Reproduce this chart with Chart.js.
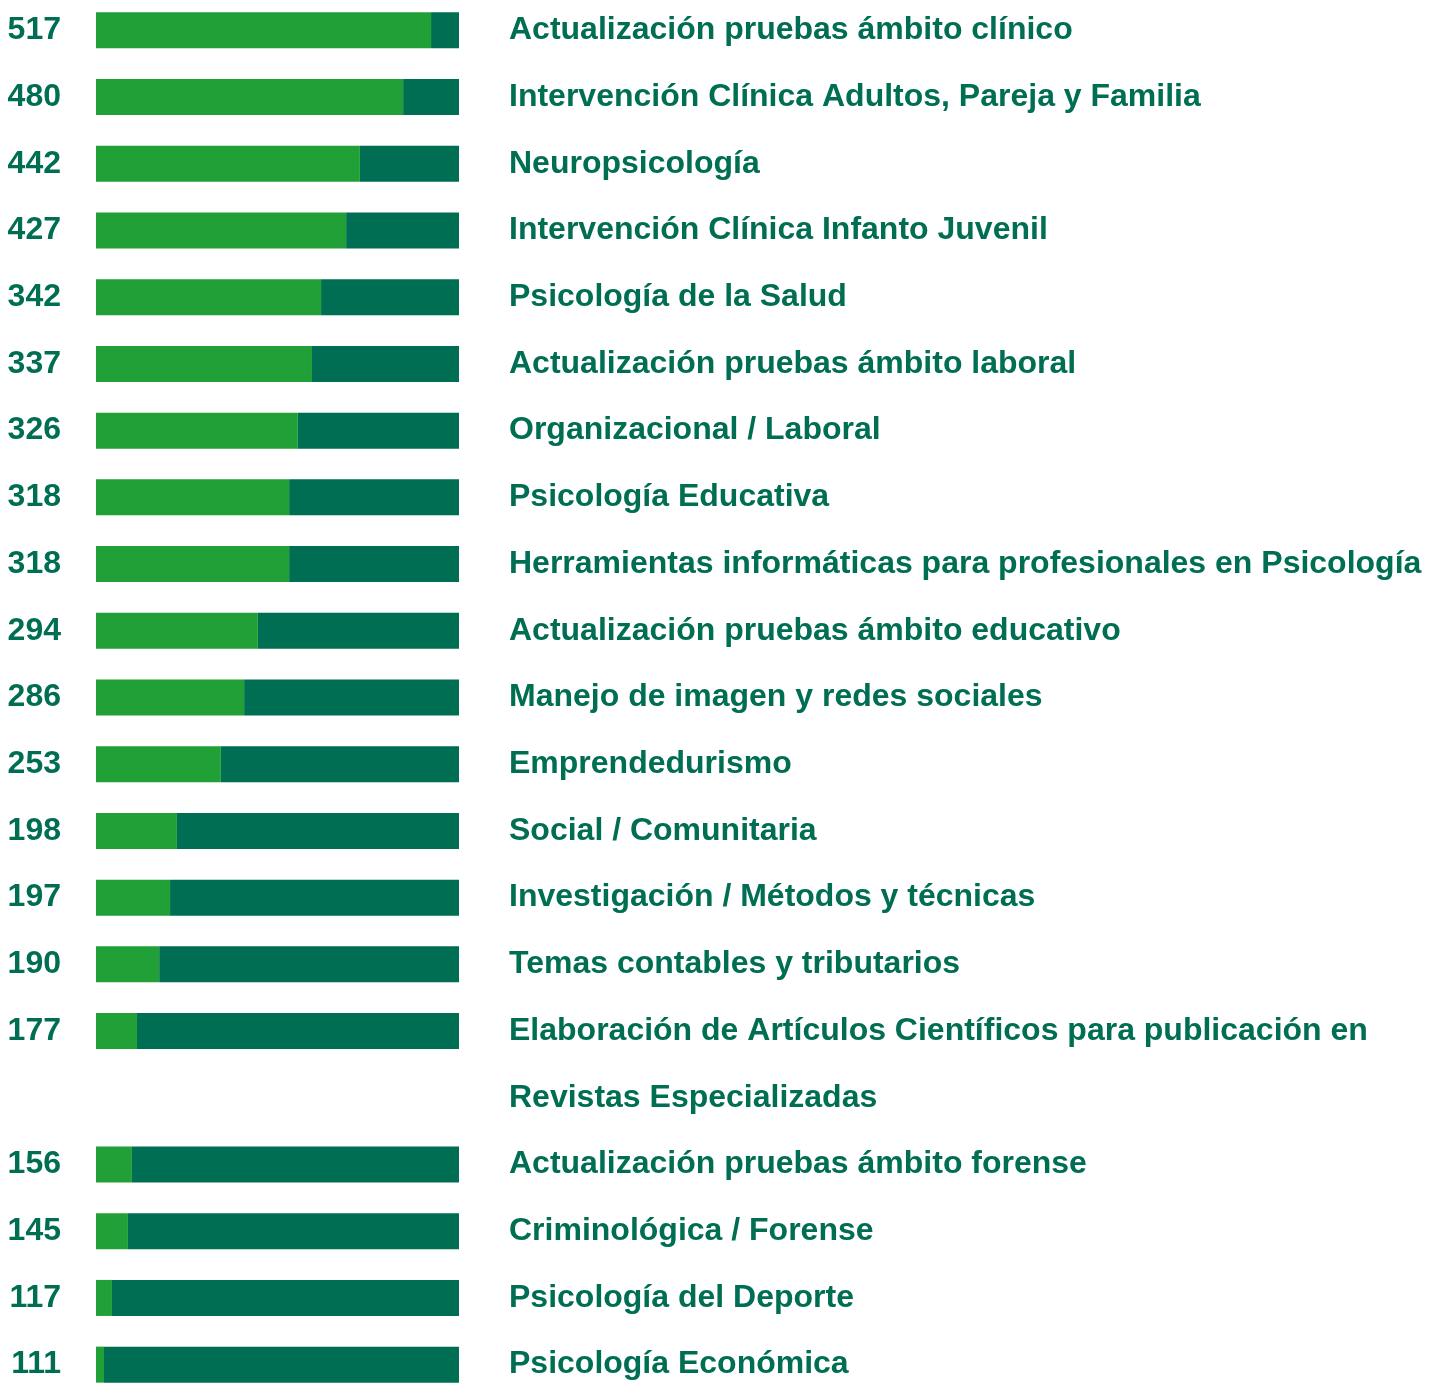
<!DOCTYPE html>
<html>
<head>
<meta charset="utf-8">
<script src="https://cdn.jsdelivr.net/npm/chart.js@4.4.1/dist/chart.umd.min.js"></script>
<style>
  html, body { margin: 0; padding: 0; background: #fff; overflow: hidden; }
  #chart { position: absolute; left: 0; top: -3px; }
</style>
</head>
<body>
<canvas id="chart" width="1438" height="1401"></canvas>
<script>
// Datos del gráfico
const categories = [
    'Actualización pruebas ámbito clínico',
    'Intervención Clínica Adultos, Pareja y Familia',
    'Neuropsicología',
    'Intervención Clínica Infanto Juvenil',
    'Psicología de la Salud',
    'Actualización pruebas ámbito laboral',
    'Organizacional / Laboral',
    'Psicología Educativa',
    'Herramientas informáticas para profesionales en Psicología',
    'Actualización pruebas ámbito educativo',
    'Manejo de imagen y redes sociales',
    'Emprendedurismo',
    'Social / Comunitaria',
    'Investigación / Métodos y técnicas',
    'Temas contables y tributarios',
    ['Elaboración de Artículos Científicos para publicación en', 'Revistas Especializadas'],
    'Actualización pruebas ámbito forense',
    'Criminológica / Forense',
    'Psicología del Deporte',
    'Psicología Económica'
];
const counts = [517, 480, 442, 427, 342, 337, 326, 318, 318, 294, 286, 253, 198, 197, 190, 177, 156, 145, 117, 111];
// parte verde claro de cada barra (% del largo total)
const lightShare = [92.3, 84.6, 72.7, 68.9, 62.0, 59.5, 55.6, 53.2, 53.2, 44.6, 40.8, 34.4, 22.3, 20.4, 17.4, 11.3, 9.9, 8.8, 4.4, 2.2];

const LIGHT = '#21a038';
const DARK = '#006e52';
const FONT = "'Liberation Sans', Arial, sans-serif";

// Filas: una etiqueta larga ocupa dos renglones
const rowLabels = [];
const rowCounts = [];
const rowLight = [];
const rowDark = [];
categories.forEach((cat, i) => {
    const lines = Array.isArray(cat) ? cat : [cat];
    lines.forEach((line, j) => {
        rowLabels.push(line);
        if (j === 0) {
            rowCounts.push(String(counts[i]));
            rowLight.push(lightShare[i]);
            rowDark.push(100 - lightShare[i]);
        } else {
            rowCounts.push('');
            rowLight.push(null);
            rowDark.push(null);
        }
    });
});

// ancho fijo del eje y sin relleno vertical
function fixAxis(width) {
    return (scale) => {
        scale.width = width;
        scale.paddingTop = 0;
        scale.paddingBottom = 0;
    };
}

const ctx = document.getElementById('chart').getContext('2d');
new Chart(ctx, {
    type: 'bar',
    data: {
        labels: rowLabels,
        datasets: [
            { data: rowLight, backgroundColor: LIGHT, yAxisID: 'y' },
            { data: rowDark, backgroundColor: DARK, yAxisID: 'y' }
        ]
    },
    options: {
        indexAxis: 'y',
        responsive: false,
        animation: false,
        layout: { padding: 0 },
        datasets: {
            bar: { categoryPercentage: 1, barPercentage: 0.54, borderWidth: 0 }
        },
        plugins: {
            legend: { display: false },
            tooltip: { enabled: false }
        },
        scales: {
            x: {
                stacked: true,
                min: 0,
                max: 100,
                display: false
            },
            yNum: {
                type: 'category',
                labels: rowCounts,
                position: 'left',
                offset: true,
                grid: { display: false, drawTicks: false, offset: true },
                border: { display: false },
                ticks: {
                    autoSkip: false,
                    padding: 35,
                    color: DARK,
                    font: { family: FONT, size: 32, weight: 'bold' }
                },
                afterFit: fixAxis(96)
            },
            y: {
                type: 'category',
                stacked: true,
                position: 'right',
                offset: true,
                grid: { display: false, drawTicks: false, offset: true },
                border: { display: false },
                ticks: {
                    autoSkip: false,
                    padding: 50,
                    color: DARK,
                    font: { family: FONT, size: 32, weight: 'bold' }
                },
                afterFit: fixAxis(1438 - 459)
            }
        }
    }
});
</script>
</body>
</html>
